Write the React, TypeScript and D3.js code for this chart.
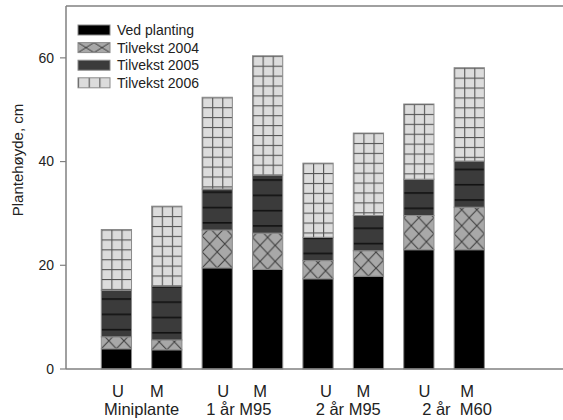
import React from "react";
import * as d3 from "d3";

const categories = ["U", "M", "U", "M", "U", "M", "U", "M"];
const groupLabels = ["Miniplante", "1 år M95", "2 år M95", "2 år  M60"];
const seriesNames = ["Ved planting", "Tilvekst 2004", "Tilvekst 2005", "Tilvekst 2006"];
const vedPlanting = [3.9, 3.7, 19.5, 19.2, 17.4, 17.9, 23.0, 23.0];
const tilvekst2004 = [2.3, 1.9, 7.3, 7.0, 3.5, 4.9, 6.6, 8.2];
const tilvekst2005 = [9.0, 10.4, 7.9, 11.2, 4.5, 6.8, 7.0, 8.9];
const tilvekst2006 = [11.7, 15.4, 17.7, 23.0, 14.3, 15.9, 14.5, 18.0];
const yTicks = [0, 20, 40, 60];
// small label nudges (px) to mimic the hand-placed text of the original
const letterNudge = [1.5, -10, 6, -7.5, 8, -5, 5.5, -2];
const groupNudge = [0, -3.5, 5, 13];

const W = 563;
const H = 420;
const left = 66;
const right = 563;
const top = 6;
const bottom = 369;

export default function App() {
  const keys = ["ved", "t04", "t05", "t06"];
  const rows = categories.map((c, i) => ({
    i,
    ved: vedPlanting[i],
    t04: tilvekst2004[i],
    t05: tilvekst2005[i],
    t06: tilvekst2006[i],
  }));
  const stacked = d3.stack<any>().keys(keys)(rows);

  const y = d3.scaleLinear().domain([0, 70]).range([bottom, top]);
  const x = d3.scaleLinear().domain([0, 9.86]).range([left, right]);
  const barW = x(0.6) - x(0);

  const font = "Liberation Sans, Arial, sans-serif";
  const axisColor = "#808080";

  const patterns: React.ReactNode[] = [];
  const rects: React.ReactNode[] = [];

  stacked.forEach((layer, s) => {
    layer.forEach((d, i) => {
      const cx = x(i + 1);
      const bx = cx - barW / 2;
      const y0 = y(d[0]);
      const y1 = y(d[1]);
      let fill = "#000";
      if (s === 1) {
        const id = `p04-${i}`;
        patterns.push(
          <pattern key={id} id={id} patternUnits="userSpaceOnUse" x={bx} y={y0} width={barW / 2} height={16}>
            <rect width={barW / 2} height={16} fill="#a8a8a8" />
            <path d={`M0,0 L${barW / 2},16 M${barW / 2},0 L0,16`} stroke="#3a3a3a" strokeWidth={1} />
          </pattern>
        );
        fill = `url(#${id})`;
      } else if (s === 2) {
        const id = `p05-${i}`;
        patterns.push(
          <pattern key={id} id={id} patternUnits="userSpaceOnUse" x={bx} y={y0 - 8} width={barW} height={15.3}>
            <rect width={barW} height={15.3} fill="#3b3b3b" />
            <line x1={0} x2={barW} y1={0.8} y2={0.8} stroke="#111" strokeWidth={1.6} />
          </pattern>
        );
        fill = `url(#${id})`;
      } else if (s === 3) {
        const id = `p06-${i}`;
        patterns.push(
          <pattern key={id} id={id} patternUnits="userSpaceOnUse" x={bx} y={y1} width={barW / 3} height={9.9}>
            <rect width={barW / 3} height={9.9} fill="#dcdcdc" />
            <line x1={0.5} x2={0.5} y1={0} y2={9.9} stroke="#555" strokeWidth={1.2} />
            <line x1={0} x2={barW / 3} y1={0.5} y2={0.5} stroke="#555" strokeWidth={1.2} />
          </pattern>
        );
        fill = `url(#${id})`;
      }
      rects.push(
        <rect
          key={`r-${s}-${i}`}
          x={bx}
          y={y1}
          width={barW}
          height={y0 - y1}
          fill={fill}
          stroke="#8a8a8a"
          strokeWidth={1}
        />
      );
    });
  });

  // legend
  const legX = 78;
  const legY0 = 30;
  const legStep = 17.6;
  const swW = 32;
  const swH = 10;
  const legendPatterns = (
    <>
      <pattern id="leg04" patternUnits="userSpaceOnUse" x={legX} y={legY0 + legStep - swH / 2} width={swW / 2} height={swH}>
        <rect width={swW / 2} height={swH} fill="#a8a8a8" />
        <path d={`M0,0 L${swW / 2},${swH} M${swW / 2},0 L0,${swH}`} stroke="#3a3a3a" strokeWidth={1} />
      </pattern>
      <pattern id="leg06" patternUnits="userSpaceOnUse" x={legX} y={0} width={swW / 3} height={20}>
        <rect width={swW / 3} height={20} fill="#dcdcdc" />
        <line x1={0.5} x2={0.5} y1={0} y2={20} stroke="#555" strokeWidth={1.2} />
      </pattern>
    </>
  );
  const legendFills = ["#000", "url(#leg04)", "#3b3b3b", "url(#leg06)"];

  return (
    <svg
      width={W}
      height={H}
      style={{ position: "absolute", left: 0, top: 0, background: "#fff" }}
      fontFamily={font}
    >
      <defs>
        {patterns}
        {legendPatterns}
      </defs>
      <rect width={W} height={H} fill="#fff" />
      {rects}
      {/* frame */}
      <line x1={left} x2={right} y1={top} y2={top} stroke={axisColor} strokeWidth={1.5} />
      <line x1={left} x2={left} y1={top} y2={bottom} stroke={axisColor} strokeWidth={1.5} />
      <line x1={left} x2={right} y1={bottom} y2={bottom} stroke={axisColor} strokeWidth={1.5} />
      {yTicks.map((t) => (
        <g key={`yt-${t}`}>
          <line x1={left - 6} x2={left} y1={y(t)} y2={y(t)} stroke={axisColor} strokeWidth={1.2} />
          <text x={left - 12} y={y(t)} dy="0.35em" textAnchor="end" fontSize={14} fill="#222">
            {t}
          </text>
        </g>
      ))}
      <text
        transform={`translate(23, ${160}) rotate(-90)`}
        textAnchor="middle"
        fontSize={15}
        fill="#222"
      >
        Plantehøyde, cm
      </text>
      {categories.map((c, i) => (
        <text key={`xl-${i}`} x={x(i + 1) + letterNudge[i]} y={397} textAnchor="middle" fontSize={16.5} fill="#222">
          {c}
        </text>
      ))}
      {groupLabels.map((g, k) => (
        <text
          key={`gl-${k}`}
          x={(x(2 * k + 1) + x(2 * k + 2)) / 2 + groupNudge[k]}
          y={415}
          textAnchor="middle"
          fontSize={16.5}
          fill="#222"
          style={{ whiteSpace: "pre" }}
        >
          {g}
        </text>
      ))}
      {seriesNames.map((n, k) => (
        <g key={`lg-${k}`}>
          <rect
            x={legX}
            y={legY0 + k * legStep - swH / 2}
            width={swW}
            height={swH}
            fill={legendFills[k]}
            stroke="#8a8a8a"
            strokeWidth={1}
          />
          <text x={legX + 39} y={legY0 + k * legStep} dy="0.35em" fontSize={14} fill="#222">
            {n}
          </text>
        </g>
      ))}
    </svg>
  );
}
